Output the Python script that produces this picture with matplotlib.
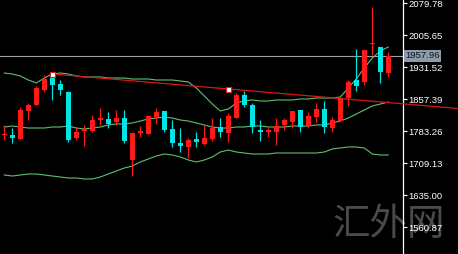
import matplotlib
matplotlib.use("Agg")
import matplotlib.pyplot as plt
import matplotlib.transforms as mtransforms
import numpy as np

# ---- data (prices) ----
opens = [1774.7, 1774.7, 1765.4, 1830.3, 1844.2, 1878.9, 1906.7, 1892.8, 1874.3, 1767.7,
         1783.9, 1783.9, 1809.4, 1811.7, 1804.8, 1814.0, 1716.8, 1779.3, 1777.0, 1816.4,
         1830.3, 1788.6, 1756.1, 1746.9, 1765.4, 1753.8, 1765.4, 1793.2, 1779.3, 1814.0,
         1867.4, 1844.2, 1786.3, 1781.6, 1781.6, 1797.9, 1804.8, 1832.6, 1795.5, 1816.4,
         1834.9, 1790.9, 1807.1, 1860.4, 1902.1, 1897.5, 1985.5, 1978.5, 1918.3]
highs = [1797.9, 1790.9, 1839.6, 1848.8, 1888.2, 1913.7, 1916.0, 1902.1, 1876.6, 1793.2,
         1797.9, 1821.0, 1837.2, 1828.0, 1832.6, 1832.6, 1779.3, 1795.5, 1818.7, 1837.2,
         1830.3, 1809.4, 1790.9, 1767.7, 1781.6, 1797.9, 1814.0, 1814.0, 1825.7, 1872.0,
         1876.6, 1848.8, 1809.4, 1790.9, 1814.0, 1814.0, 1830.3, 1832.6, 1828.0, 1848.8,
         1853.4, 1816.4, 1862.7, 1902.1, 1973.9, 1971.6, 2071.2, 1978.5, 1966.9]
lows = [1763.1, 1756.1, 1765.4, 1809.4, 1844.2, 1874.3, 1855.8, 1867.4, 1758.5, 1763.1,
        1749.2, 1781.6, 1797.9, 1790.9, 1797.9, 1756.1, 1679.7, 1770.0, 1777.0, 1800.2,
        1781.6, 1746.9, 1735.3, 1721.4, 1746.9, 1751.5, 1760.8, 1770.0, 1758.5, 1814.0,
        1839.6, 1779.3, 1760.8, 1770.0, 1751.5, 1786.3, 1790.9, 1781.6, 1790.9, 1804.8,
        1779.3, 1781.6, 1807.1, 1841.9, 1876.6, 1890.5, 1960.0, 1895.2, 1909.0]
closes = [1777.0, 1767.7, 1832.6, 1844.2, 1883.6, 1904.4, 1890.5, 1878.9, 1763.1, 1781.6,
          1788.6, 1809.4, 1814.0, 1800.2, 1814.0, 1760.8, 1779.3, 1783.9, 1818.7, 1828.0,
          1786.3, 1756.1, 1749.2, 1763.1, 1758.5, 1767.7, 1790.9, 1781.6, 1818.7, 1867.4,
          1844.2, 1793.2, 1781.6, 1786.3, 1795.5, 1809.4, 1830.3, 1793.2, 1818.7, 1834.9,
          1793.2, 1809.4, 1860.4, 1897.5, 1888.2, 1971.6, 1987.8, 1920.6, 1957.96]

bb_upper = [1918.3, 1916.0, 1911.4, 1902.1, 1895.2, 1906.7, 1916.0, 1918.3, 1916.0, 1911.4,
            1909.1, 1909.1, 1909.1, 1906.7, 1906.7, 1906.7, 1904.4, 1904.4, 1904.4, 1902.1,
            1902.1, 1902.1, 1899.8, 1897.5, 1883.6, 1865.0, 1846.5, 1830.3, 1834.9, 1848.8,
            1853.5, 1855.8, 1853.5, 1853.5, 1855.8, 1855.8, 1855.8, 1858.1, 1858.1, 1860.4,
            1860.4, 1860.4, 1862.7, 1883.6, 1904.4, 1929.9, 1953.1, 1969.3, 1978.6]
bb_middle = [1793.2, 1795.5, 1793.2, 1790.9, 1790.9, 1790.9, 1793.2, 1793.2, 1795.5, 1790.9,
             1788.6, 1790.9, 1793.2, 1797.9, 1800.2, 1800.2, 1802.5, 1807.1, 1811.8, 1814.1,
             1816.4, 1814.1, 1809.4, 1807.1, 1802.5, 1797.9, 1793.2, 1790.9, 1790.9, 1793.2,
             1793.2, 1795.5, 1795.5, 1793.2, 1793.2, 1793.2, 1795.5, 1795.5, 1795.5, 1797.9,
             1797.9, 1802.5, 1807.1, 1814.1, 1823.3, 1832.6, 1841.9, 1846.5, 1851.1]
bb_lower = [1682.0, 1679.7, 1682.0, 1684.3, 1684.3, 1682.0, 1679.7, 1677.4, 1675.1, 1675.1,
            1672.8, 1672.8, 1677.4, 1684.3, 1691.3, 1698.2, 1702.9, 1712.1, 1719.1, 1726.0,
            1730.7, 1728.4, 1723.7, 1716.8, 1712.1, 1716.8, 1723.7, 1735.3, 1739.9, 1735.3,
            1733.0, 1730.7, 1730.7, 1730.7, 1733.0, 1733.0, 1733.0, 1733.0, 1733.0, 1733.0,
            1735.3, 1742.3, 1744.6, 1746.9, 1746.9, 1744.6, 1730.7, 1728.4, 1728.4]

trend_idx = [6, 28]
trend_price = [1916.0, 1881.3]

last_price = 1957.96
tick_values = [1560.87, 1635.00, 1709.13, 1783.26, 1857.39, 1931.52, 2005.65, 2079.78]
watermark = "汇外网"

# ---- figure ----
W, H = 458, 254
fig = plt.figure(figsize=(W / 100, H / 100), dpi=100, facecolor="black")
axis_px = 403
ax = fig.add_axes([0, 0, axis_px / W, 1])
ax.set_facecolor("none")

px_per_bar = 8.0
x0_px = 4.3
ax.set_xlim((0 - x0_px) / px_per_bar, (axis_px - x0_px) / px_per_bar)
ax.set_ylim(1499.0, 2087.43)

idx = np.arange(len(opens))
up_col = "#ff1a1a"
dn_col = "#00e6e6"
cols = [up_col if c >= o else dn_col for o, c in zip(opens, closes)]

# Bollinger bands
band_col = "#5fbf6f"
for band in (bb_upper, bb_middle, bb_lower):
    ax.plot(idx, band, color=band_col, lw=0.8, zorder=2)

# Trend line (extends to right edge)
slope = (trend_price[1] - trend_price[0]) / (trend_idx[1] - trend_idx[0])
x_end = (W - x0_px) / px_per_bar
ax.plot([trend_idx[0], x_end],
        [trend_price[0], trend_price[0] + slope * (x_end - trend_idx[0])],
        color="#d81818", lw=0.9, zorder=3, clip_on=False)

# last price line
ax.axhline(last_price, color="#9aa4ae", lw=0.8, zorder=1)

# candles
ax.vlines(idx, lows, highs, colors=cols, lw=0.9, zorder=4)
min_h = 2.4
bottoms = [min(o, c) for o, c in zip(opens, closes)]
heights = [max(abs(c - o), min_h) for o, c in zip(opens, closes)]
ax.bar(idx, heights, bottom=bottoms, width=0.62, color=cols, linewidth=0, zorder=5)

# trend anchor markers
ax.plot(trend_idx, trend_price, "s", ms=3.6, mfc="white", mec="#e02020", mew=0.8,
        zorder=6)

# axes styling
for s in ("top", "left", "bottom"):
    ax.spines[s].set_visible(False)
ax.spines["right"].set_color("white")
ax.spines["right"].set_linewidth(0.9)
ax.xaxis.set_visible(False)
ax.yaxis.tick_right()
ax.set_yticks(tick_values)
ax.set_yticklabels([f"{v:.2f}" for v in tick_values])
ax.tick_params(axis="y", colors="white", length=3, width=0.8, pad=1,
               labelsize=6.8, labelcolor="white")
for lab in ax.get_yticklabels():
    lab.set_family("Liberation Sans")

# last price label box
trans = mtransforms.blended_transform_factory(ax.transAxes, ax.transData)
ax.text(1.006, last_price, f"{last_price:.2f}", transform=trans, ha="left",
        va="center", fontsize=6.8, family="Liberation Sans", color="#101010",
        bbox=dict(boxstyle="square,pad=0.15", facecolor="#8d9cab", edgecolor="none"),
        clip_on=False, zorder=10)

# watermark
fig.text(389 / W, 1 - 224 / H, watermark, ha="center", va="center",
         fontsize=27, color="#4a4a4a", family=["Noto Sans CJK SC", "DejaVu Sans"],
         zorder=-1)

fig.savefig("out.png", dpi=100, facecolor="black")
